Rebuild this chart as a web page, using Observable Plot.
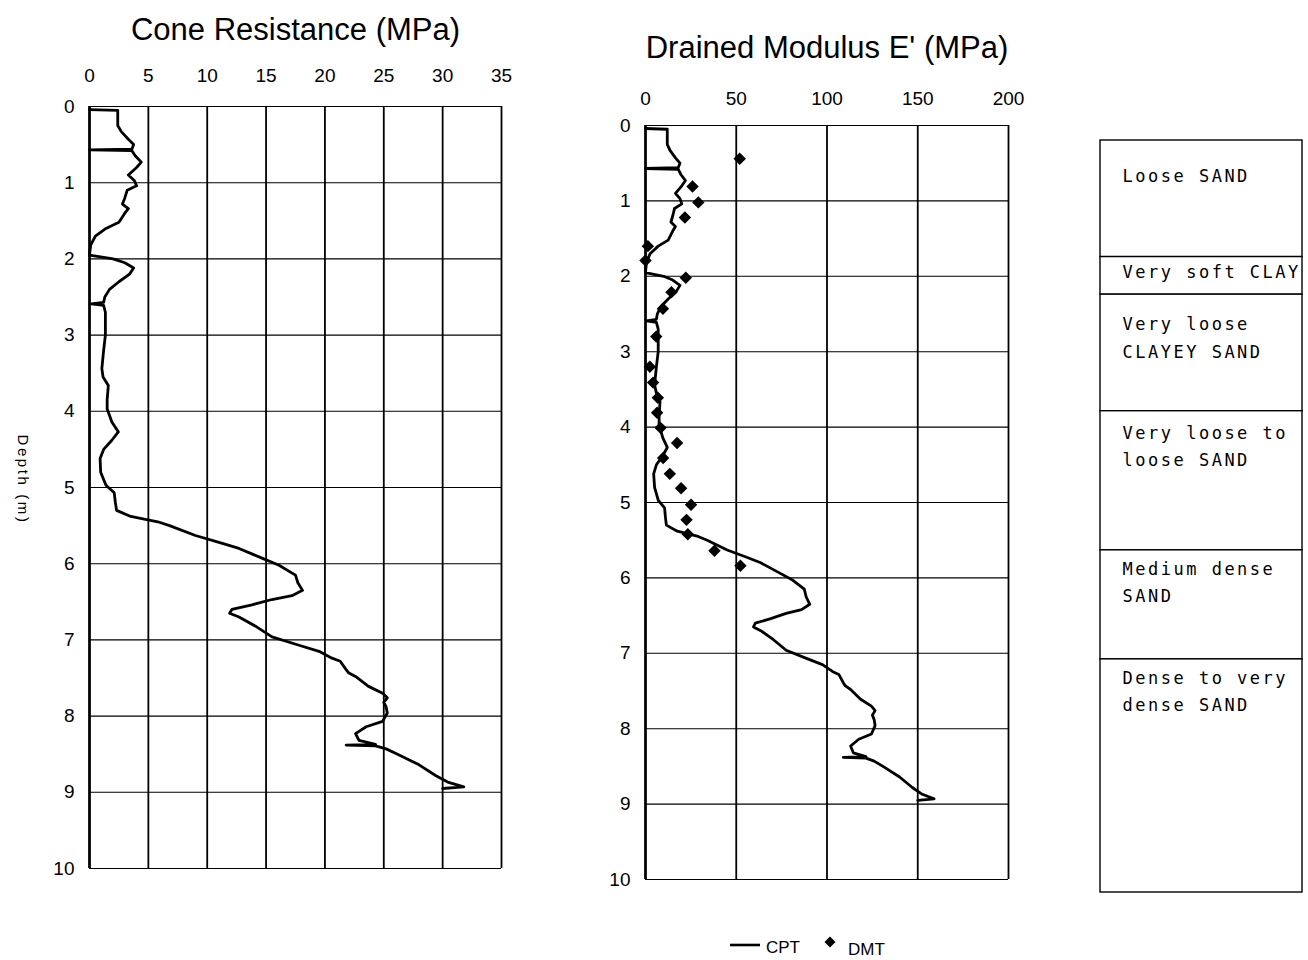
<!DOCTYPE html>
<html>
<head>
<meta charset="utf-8">
<script src="https://cdn.jsdelivr.net/npm/d3@7"></script>
<script src="https://cdn.jsdelivr.net/npm/@observablehq/plot@0.6"></script>
<style>
  body { margin: 0; background: #fff; }
  #wrap { position: relative; width: 1308px; height: 960px; background: #fff; overflow: hidden;
          font-family: "Liberation Sans", Arial, sans-serif; color: #000; }
  .panel { position: absolute; top: 0; }
  .legend-item { position: absolute; font-size: 17px; line-height: 1; }
</style>
</head>
<body>
<div id="wrap"></div>
<script>
// ---------- DATA ----------
// CPT profile: depth (m)
const cptDepth = [0.04, 0.05, 0.25, 0.33, 0.43, 0.50, 0.56, 0.57, 0.58, 0.65, 0.73, 0.80, 0.90, 0.97, 1.04, 1.10, 1.20, 1.28, 1.34, 1.40,
  1.52, 1.60, 1.70, 1.82, 1.95, 2.00, 2.05, 2.12, 2.20, 2.30, 2.40, 2.50, 2.57, 2.59, 2.61, 2.70, 3.00, 3.20, 3.44, 3.55,
  3.66, 3.85, 3.97, 4.14, 4.27, 4.38, 4.50, 4.62, 4.80, 4.97, 5.07, 5.20, 5.30, 5.38, 5.45, 5.50, 5.63, 5.72, 5.80, 5.93,
  6.02, 6.15, 6.25, 6.35, 6.42, 6.47, 6.54, 6.60, 6.65, 6.70, 6.82, 6.96, 7.07, 7.15, 7.24, 7.28, 7.39, 7.43, 7.48, 7.61,
  7.70, 7.76, 7.82, 7.88, 7.96, 8.07, 8.14, 8.23, 8.32, 8.37, 8.38, 8.39, 8.43, 8.51, 8.64, 8.78, 8.87, 8.93, 8.95];
// Cone resistance qc (MPa)
const cptQc = [0, 2.4, 2.4, 2.7, 3.3, 3.75, 3.6, 0, 3.6, 3.9, 4.4, 4.0, 3.3, 3.8, 4.0, 3.2, 3.0, 2.8, 3.3, 3.0,
  2.5, 1.4, 0.5, 0.1, 0, 2.0, 3.0, 3.75, 3.4, 2.5, 1.7, 1.3, 1.2, 0.15, 1.2, 1.35, 1.35, 1.2, 1.05, 1.15,
  1.6, 1.5, 1.5, 1.9, 2.45, 1.9, 1.2, 0.9, 0.95, 1.4, 2.1, 2.2, 2.3, 3.5, 5.8, 6.8, 9.0, 11.0, 12.7, 14.7,
  16.1, 17.5, 17.7, 18.1, 17.2, 15.5, 13.8, 12.1, 11.9, 12.7, 14.1, 15.5, 17.8, 19.5, 20.6, 21.3, 21.8, 22.0, 22.6, 23.7,
  24.9, 25.3, 25.0, 25.2, 25.3, 24.9, 23.5, 22.6, 22.9, 24.3, 21.8, 24.3, 25.2, 26.3, 28.0, 29.4, 30.5, 31.8, 30.0];
// Drained modulus from CPT, E' (MPa)
const cptE = [0, 12, 12, 13.5, 16.5, 19, 18, 0, 18, 19.5, 22, 20, 16.5, 19, 20, 16, 15, 14, 16.5, 15,
  12.5, 7, 2.5, 0.5, 0, 10, 15, 19, 17, 12.5, 8.5, 6.5, 6, 0.5, 6, 7, 7, 6, 5, 6,
  8, 7.5, 7.5, 9.5, 12, 9.5, 6, 4.5, 5, 7, 10.5, 11, 11.5, 17.5, 29, 34, 45, 55, 63.5, 73.5,
  80.5, 87.5, 88.5, 90.5, 86, 77.5, 69, 60.5, 59.5, 63.5, 70.5, 77.5, 89, 97.5, 103, 106.5, 109, 110, 113, 118.5,
  124.5, 126.5, 125, 126, 126.5, 124.5, 117.5, 113, 114.5, 121.5, 109, 121.5, 126, 131.5, 140, 147, 152.5, 159, 150];
// DMT points: depth (m) and E' (MPa)
const dmtDepth = [0.44, 0.81, 1.02, 1.22, 1.60, 1.79, 2.02, 2.21, 2.43, 2.80, 3.20, 3.41, 3.61, 3.81, 4.01, 4.21, 4.41, 4.62, 4.81, 5.03, 5.23, 5.42, 5.64, 5.84];
const dmtE     = [51.9, 25.9, 29.1, 21.7, 1.3, 0.0, 22.2, 14.3, 9.6, 5.9, 2.4, 4.2, 6.8, 6.4, 8.3, 17.4, 9.7, 13.4, 19.6, 25.1, 22.6, 23.3, 38.0, 52.3];
// Ticks
const qcTicks = [0, 5, 10, 15, 20, 25, 30, 35];
const eTicks = [0, 50, 100, 150, 200];
const depthTicks = [0, 1, 2, 3, 4, 5, 6, 7, 8, 9, 10];
// Soil column
const soilNames = ["Loose SAND", "Very soft CLAY", "Very loose\nCLAYEY SAND", "Very loose to\nloose SAND", "Medium dense\nSAND", "Dense to very\ndense SAND"];
const soilTop = [0, 1.55, 2.05, 3.6, 5.45, 6.9];
const soilBottom = [1.55, 2.05, 3.6, 5.45, 6.9, 10];

// ---------- BUILD ----------
const FONT = '"Liberation Sans", Arial, sans-serif';
const MONO = '"DejaVu Sans Mono", monospace';
const wrap = document.getElementById("wrap");
const cpt = cptDepth.map((d, i) => ({depth: d, qc: cptQc[i], e: cptE[i]}));
const dmt = dmtDepth.map((d, i) => ({depth: d, e: dmtE[i]}));
const soil = soilNames.map((n, i) => ({name: n, top: soilTop[i], bottom: soilBottom[i]}));

function place(el, left, top) {
  el.classList.add("panel");
  el.style.left = left + "px";
  el.style.top = top + "px";
  wrap.appendChild(el);
}

// Left panel: Cone resistance
const left = Plot.plot({
  width: 540, height: 900,
  marginLeft: 89, marginRight: 39, marginTop: 106, marginBottom: 32,
  style: {fontFamily: FONT, fontSize: "19px", color: "#000", background: "transparent", overflow: "visible"},
  x: {domain: [0, 35], axis: "top", ticks: qcTicks, tickSize: 0, tickPadding: 25, label: null},
  y: {domain: [0, 10], reverse: true, ticks: depthTicks, tickSize: 0, tickPadding: 15, label: null},
  marks: [
    Plot.ruleY(depthTicks, {stroke: "#000", strokeWidth: 1.1}),
    Plot.ruleX(qcTicks, {stroke: "#000", strokeWidth: 1.8}),
    Plot.ruleX([0], {stroke: "#000", strokeWidth: 2.6}),
    Plot.line(cpt, {x: "qc", y: "depth", stroke: "#000", strokeWidth: 2.8, strokeLinejoin: "round"}),
    Plot.text(["Cone Resistance (MPa)"], {frameAnchor: "top", lineAnchor: "middle", dy: -76, fontSize: 31, fill: "#000", fontFamily: FONT}),
    Plot.text(["Depth (m)"], {frameAnchor: "left", textAnchor: "middle", lineAnchor: "middle", dx: -67, dy: -8, rotate: 90, fontSize: 15, fill: "#000", fontFamily: FONT})
  ]
});
d3.select(left).selectAll("text").filter(function () { return this.textContent === "Depth (m)"; })
  .style("letter-spacing", "2.6px");
place(left, 0, 0);

// Middle panel: Drained modulus
const mid = Plot.plot({
  width: 480, height: 910,
  marginLeft: 85, marginRight: 32, marginTop: 125, marginBottom: 31,
  style: {fontFamily: FONT, fontSize: "19px", color: "#000", background: "transparent", overflow: "visible"},
  x: {domain: [0, 200], axis: "top", ticks: eTicks, tickSize: 0, tickPadding: 21, label: null},
  y: {domain: [0, 10], reverse: true, ticks: depthTicks, tickSize: 0, tickPadding: 15, label: null},
  marks: [
    Plot.ruleY(depthTicks, {stroke: "#000", strokeWidth: 1.1}),
    Plot.ruleX(eTicks, {stroke: "#000", strokeWidth: 1.8}),
    Plot.ruleX([0], {stroke: "#000", strokeWidth: 2.6}),
    Plot.line(cpt, {x: "e", y: "depth", stroke: "#000", strokeWidth: 2.8, strokeLinejoin: "round"}),
    Plot.dot(dmt, {x: "e", y: "depth", symbol: "diamond2", r: 5.6, fill: "#000", stroke: "none"}),
    Plot.text(["Drained Modulus E' (MPa)"], {frameAnchor: "top", lineAnchor: "middle", dy: -77, fontSize: 31, fill: "#000", fontFamily: FONT})
  ]
});
place(mid, 560, 0);

// Soil column
const soilDy = [22, 1, 16, 8, 5, 5]; // label offsets below each layer top (layout)
const soilPlot = Plot.plot({
  width: 218, height: 900,
  marginLeft: 10, marginRight: 6, marginTop: 140, marginBottom: 8,
  style: {fontFamily: MONO, fontSize: "17px", letterSpacing: "2.5px", background: "transparent", overflow: "visible"},
  x: {domain: [0, 1], axis: null},
  y: {domain: [0, 10], reverse: true, axis: null},
  marks: [
    Plot.rect(soil, {x1: 0, x2: 1, y1: "top", y2: "bottom", fill: "#fff", stroke: "#000", strokeWidth: 1.4}),
    ...soil.map((s, i) => Plot.text([s], {x: 0, y: "top", text: "name", textAnchor: "start", lineAnchor: "top",
      dx: 22, dy: soilDy[i], lineHeight: 1.62, fontSize: 17, fill: "#000", fontFamily: MONO}))
  ]
});
place(soilPlot, 1090, 0);

// Legend (below the middle panel)
const leg = document.createElement("div");
leg.style.position = "absolute"; leg.style.left = "0"; leg.style.top = "0";
leg.innerHTML = `
  <svg class="legend-item" style="left:729px;top:941px" width="32" height="8"><line x1="1" y1="4" x2="31" y2="4" stroke="#000" stroke-width="2.6"/></svg>
  <div class="legend-item" style="left:766px;top:939px">CPT</div>
  <svg class="legend-item" style="left:824px;top:936px" width="12" height="12"><path d="M6 0.5 L11.5 6 L6 11.5 L0.5 6 Z" fill="#000"/></svg>
  <div class="legend-item" style="left:848px;top:941px">DMT</div>`;
wrap.appendChild(leg);
</script>
</body>
</html>
